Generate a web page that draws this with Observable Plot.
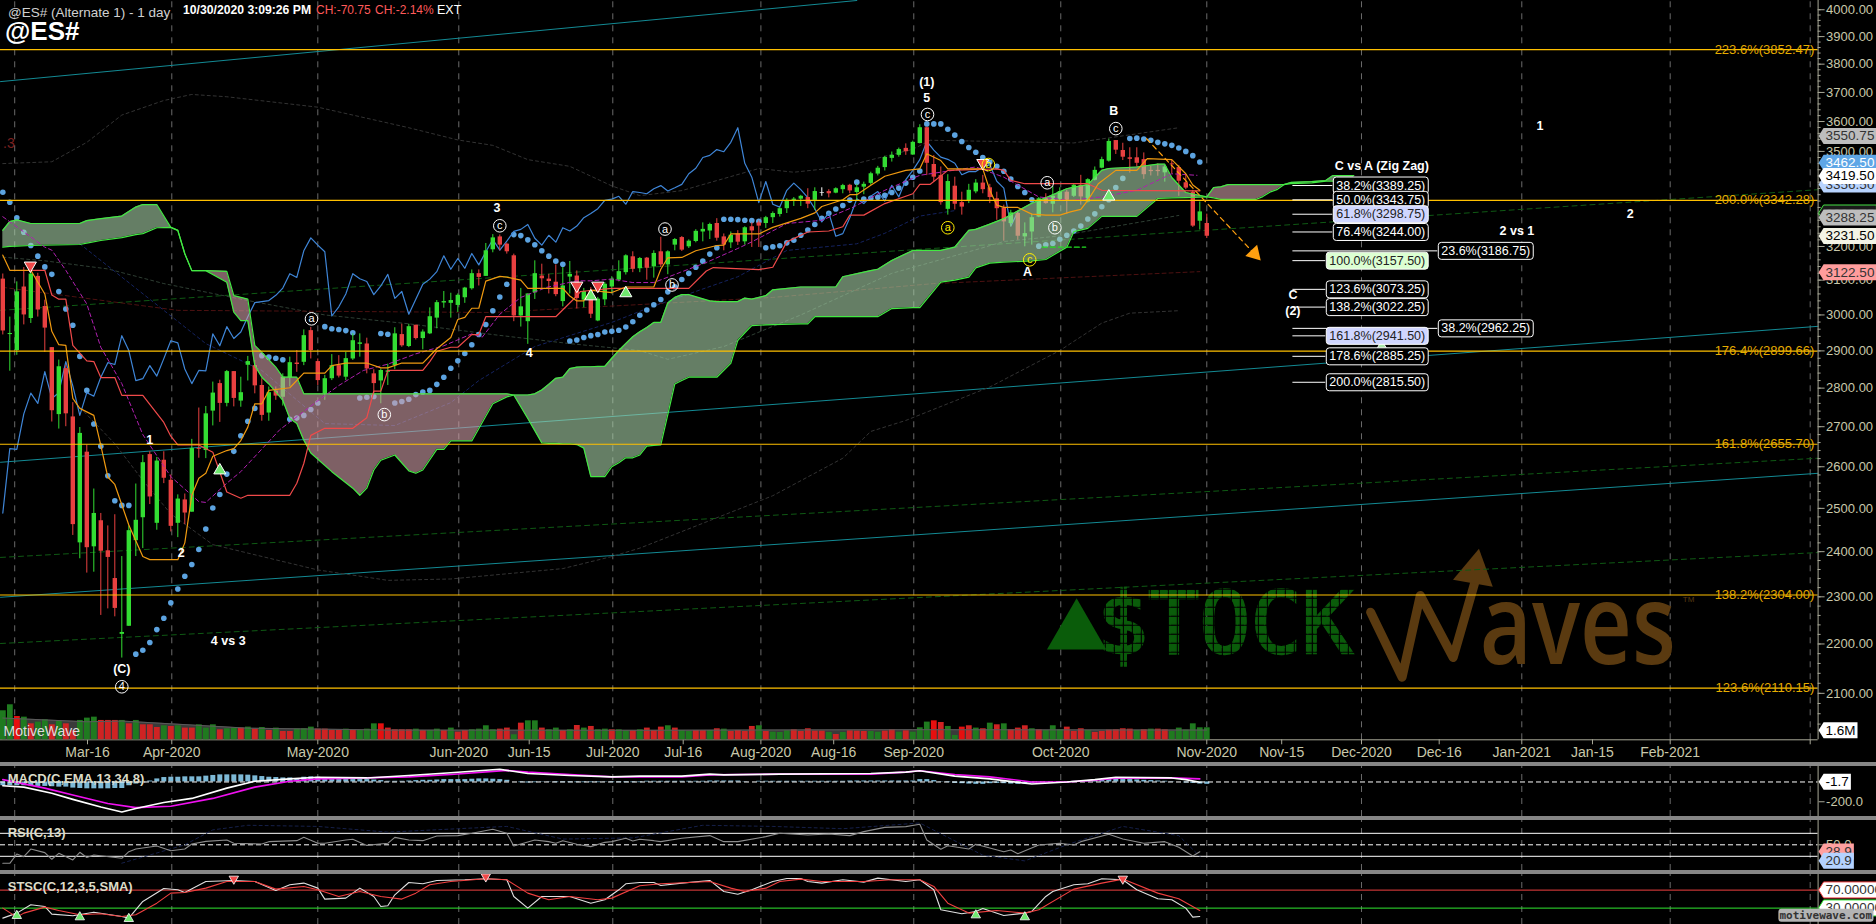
<!DOCTYPE html>
<html><head><meta charset="utf-8">
<script src="https://cdn.jsdelivr.net/npm/d3@7"></script>
<script src="https://cdn.jsdelivr.net/npm/@observablehq/plot@0.6"></script>
<style>
html,body{margin:0;padding:0;background:#000;width:1876px;height:924px;overflow:hidden}
#wrap{position:relative;width:1876px;height:924px;font-family:"Liberation Sans",Arial,sans-serif}
#wrap svg{display:block;position:absolute;left:0;overflow:visible}
.sep{position:absolute;left:0;width:1876px;height:4px;background:#868686}
.hd{position:absolute;white-space:nowrap;font-size:13.5px;line-height:16px}
</style></head><body><div id="wrap"></div>
<script>
// ---------- candles (bar index 0 .. 172) ----------
const open=[3103,2945,2901,3080,2990,3111,3024,2909,2731,2852,2725,2420,2636,2411,2471,2402,2340,2220,2237,2425,2478,2630,2465,2616,2567,2465,2520,2491,2645,2640,2740,2812,2760,2844,2766,
2861,2860,2807,2735,2792,2776,2827,2867,2869,2956,2871,2785,2825,2860,2829,2878,2918,2919,2838,2819,2842,2860,2945,2912,2971,2934,2947,2991,3034,3033,3027,3049,3075,3119,3111,
3190,3229,3207,3172,2997,2981,3063,3112,3103,3094,3038,3109,3112,3042,3069,2983,3043,3080,3100,3122,3169,3134,3165,3139,3184,3145,3204,3227,3199,3215,3244,3247,3270,3229,3211,3238,
3214,3260,3272,3270,3288,3298,3316,3342,3346,3351,3342,3365,3370,3365,3376,3390,3367,3384,3396,3426,3447,3477,3487,3510,3488,3526,3579,3457,3421,3314,3387,3335,3340,3369,
3397,3382,3347,3318,3270,3301,3229,3244,3290,3351,3330,3344,3368,3355,3390,3337,3406,3445,3468,3536,3503,3479,3479,3473,3438,3438,3430,3459,3447,3398,3368,3277,3270];
const high=[3118,2994,3095,3137,3130,3120,3042,2909,2875,2861,2762,2698,2654,2546,2488,2459,2485,2389,2459,2558,2628,2637,2623,2637,2580,2532,2534,2668,2748,2752,2816,2821,2847,2844,2829,
2885,2874,2825,2803,2803,2838,2883,2901,2958,2965,2878,2834,2890,2887,2896,2947,2947,2935,2849,2851,2864,2964,2974,2974,2971,2958,3020,3041,3067,3062,3060,3079,3130,3130,3209,
3236,3235,3210,3177,3076,3060,3157,3147,3117,3145,3137,3155,3127,3076,3078,3050,3093,3110,3157,3175,3184,3167,3167,3187,3228,3187,3224,3230,3220,3251,3272,3271,3285,3238,3244,3248,
3260,3272,3278,3292,3306,3319,3347,3351,3358,3379,3382,3382,3376,3382,3393,3393,3393,3400,3432,3451,3484,3498,3511,3525,3534,3589,3581,3486,3449,3424,3416,3368,3393,3408,
3422,3393,3368,3327,3311,3306,3272,3299,3351,3363,3386,3382,3374,3395,3422,3411,3449,3481,3541,3536,3527,3512,3512,3495,3451,3459,3454,3470,3454,3422,3374,3337,3299];
const low=[2944,2845,2888,2972,2976,2994,2896,2712,2694,2700,2437,2384,2352,2354,2260,2274,2257,2171,2237,2389,2407,2509,2449,2559,2445,2432,2462,2491,2621,2620,2702,2711,2751,2751,2750,
2819,2785,2714,2714,2768,2753,2803,2842,2860,2878,2807,2768,2820,2827,2820,2874,2883,2838,2785,2759,2807,2849,2910,2909,2930,2903,2945,2961,3019,2991,3007,3033,3071,3083,3111,
3181,3187,3177,2981,2966,2918,3044,3076,3060,3052,3023,3060,3017,3020,2990,2981,3026,3060,3095,3115,3122,3122,3100,3106,3137,3116,3187,3185,3194,3211,3214,3221,3216,3187,3194,3203,
3204,3197,3197,3255,3270,3290,3301,3323,3323,3316,3311,3355,3350,3363,3363,3363,3342,3360,3390,3420,3436,3465,3481,3487,3487,3525,3421,3400,3327,3296,3312,3296,3332,3363,
3363,3332,3280,3216,3260,3219,3199,3204,3288,3330,3303,3342,3299,3351,3327,3334,3404,3443,3465,3490,3470,3429,3449,3409,3420,3419,3400,3427,3355,3376,3258,3250,3224];
const close=[2955,2948,3066,3000,3118,3014,2963,2741,2857,2733,2462,2683,2409,2488,2401,2387,2275,2224,2448,2472,2610,2527,2614,2572,2458,2522,2489,2645,2643,2733,2787,2760,2844,2773,2788,
2871,2806,2729,2788,2779,2829,2868,2863,2942,2901,2820,2825,2860,2832,2879,2928,2922,2851,2812,2847,2846,2947,2914,2967,2934,2952,2995,3035,3038,3041,3056,3077,3119,3108,3187,
3226,3204,3184,2997,3023,3060,3119,3104,3096,3058,3083,3117,3047,3067,3002,3045,3088,3103,3125,3172,3132,3164,3135,3179,3145,3184,3221,3189,3216,3246,3252,3267,3225,3204,3234,3213,
3257,3247,3262,3288,3301,3316,3342,3346,3355,3330,3370,3367,3363,3379,3389,3372,3382,3393,3427,3445,3480,3487,3506,3499,3530,3579,3461,3416,3335,3402,3330,3321,3374,3397,
3376,3351,3316,3275,3303,3231,3239,3288,3347,3332,3355,3370,3340,3390,3353,3408,3438,3473,3533,3504,3481,3474,3461,3424,3434,3434,3449,3456,3403,3381,3262,3306,3231];
// ---------- parabolic SAR dots (bar 0 .. 171) ----------
const psar=[3368,3336,3288,3243,3203,3171,3139,3117,3067,3017,2971,2885,2794,2707,2651,2578,2518,2507,2507,2179,2187,2203,2230,2254,2287,2317,2345,2371,2405,2452,2501,2533,2582,2638,2677,
2714,2747,2887,2883,2880,2876,2719,2722,2729,2744,2761,2967,2961,2959,2956,2950,2774,2776,2778,2948,2946,2761,2765,2771,2783,2790,2794,2810,2829,2853,2873,2893,2917,2945,2973,
3012,3051,3088,3236,3233,3220,3205,3187,3171,3156,3147,2927,2930,2937,2942,2945,2952,2954,2957,2966,2981,2999,3014,3029,3044,3066,3081,3102,3120,3138,3156,3177,3196,
3283,3283,3282,3280,3279,3277,3196,3199,3202,3211,3219,3234,3250,3267,3286,3302,3315,3326,3343,3400,3346,3349,3352,3358,3367,3381,3397,3416,3436,3592,3592,3592,3574,3554,3533,3513,3497,
3480,3465,3451,3435,3410,3386,3367,3344,3201,3205,3209,3222,3234,3247,3262,3284,3300,3322,3344,3383,3412,3543,3544,3541,3537,3530,3525,3520,3511,3500,3486,3465];
// ---------- volume (millions) and colour code ----------
const volume=[3.87,4.67,3.11,3.02,2.13,2.36,2.67,2.0,2.44,2.13,1.2,2.58,2.89,3.02,2.58,2.58,2.58,2.58,2.13,2.58,2.0,2.0,1.64,1.87,1.78,1.87,1.56,1.56,2.0,1.56,2.0,1.33,1.47,1.56,1.56,1.69,1.42,1.64,1.24,1.56,1.11,1.11,1.42,1.47,1.69,1.42,1.42,1.24,1.24,1.42,1.24,1.24,1.42,2.13,2.13,1.56,1.33,1.33,1.33,1.42,1.24,1.24,1.42,1.24,1.56,1.02,1.24,1.33,1.42,1.87,1.33,1.42,1.56,.67,2.22,2.53,2.53,1.56,1.33,1.56,1.24,1.33,1.91,1.56,1.78,1.33,1.42,1.33,1.33,1.2,1.24,1.33,1.56,1.24,1.69,1.87,1.56,1.24,1.11,1.24,1.24,1.24,1.47,1.42,1.11,1.24,1.11,1.78,1.87,1.11,1.02,.98,1.2,1.33,1.11,1.47,1.16,1.16,.98,.71,.98,1.2,1.16,1.11,1.11,1.02,1.16,1.33,1.02,1.2,1.02,1.6,2.36,2.53,2.31,1.78,.58,1.69,1.87,1.56,1.47,2.22,2.0,2.13,1.33,1.56,1.87,1.47,1.33,1.24,1.87,1.33,1.69,1.11,1.47,1.24,.98,1.11,1.29,1.33,1.47,1.42,1.24,1.33,1.42,1.42,1.33,1.11,1.56,1.29,2.13,1.6,1.6];
const volColor="ggBgrggrgrrgggrrrgrgrrrgrgrrgggrggrgrgrgrrgggrrrrgrggbRrrrrgrggrgrrggggrrgrggrggrgrgrggrggrgrrrgrggrrgrgrrrrgrgggrrrrrgrgrrrggrrgrgggRrgbRrgrgrgrrrgrgggrrrgrrrrrrgrgrr".split("");
const volMAk=[0,12,17,35,55,91,130,172], volMA=[2.9,2.4,2.5,1.55,1.3,1.27,1.35,1.3];
// ---------- Ichimoku cloud ----------
const cloudK=[0,1,2,4,11,12,14,17,19,20,22,24,25,26,27,29,32,33,34,35,36,37,38,39,40,41,42,43,44,47,50,51,52,53,54,56,58,59,60,62,63,64,67,70,72,73,75,76,77,78,79,80,81,82,83,84,85,86,87,88,89,90,91,92,93,94,95,96,97,98,101,102,104,105,106,107,109,110,114,115,116,119,120,124,125,127,130,131,134,136,138,139,141,143,147,149,152,153,155,157,158,162,165,166,167,169,172,173,174,175,179,180,181,182,183,184,187,189,190,193];
const spanA=[3249,3276,3281,3270,3270,3279,3285,3293,3321,3329,3329,3258,3249,3178,3128,3128,3094,3008,2984,2984,2860,2829,2811,2790,2768,2721,2708,2666,2634,2588,2548,2531,2548,2592,2616,2629,2590,2584,2592,2643,2643,2664,2664,2759,2777,2782,2782,2785,2795,2810,2826,2829,2852,2856,2857,2857,2858,2858,2880,2901,2920,2939,2953,2965,2979,2979,3034,3050,3058,3058,3040,3038,3038,3038,3048,3045,3055,3072,3080,3080,3080,3080,3110,3128,3132,3158,3188,3188,3188,3198,3249,3252,3268,3285,3333,3350,3379,3384,3392,3438,3444,3449,3458,3458,3415,3367,3353,3350,3345,3345,3345,3354,3368,3376,3392,3399,3402,3405,3421,3421];
const spanB=[3198,3200,3201,3203,3206,3210,3218,3227,3236,3239,3257,3258,3249,3178,3128,3128,3126,3055,3050,3045,2915,2896,2876,2856,2829,2829,2829,2785,2785,2785,2785,2785,2785,2785,2785,2785,2785,2785,2785,2785,2785,2785,2785,2785,2785,2782,2721,2690,2659,2658,2658,2657,2657,2655,2646,2576,2576,2576,2600,2610,2622,2622,2629,2651,2653,2654,2731,2811,2820,2829,2829,2829,2866,2929,2950,2970,2972,2973,2975,2975,2995,2995,2995,2995,2995,3018,3021,3021,3094,3100,3109,3136,3150,3153,3157,3161,3198,3245,3255,3292,3292,3292,3348,3349,3350,3351,3353,3383,3385,3392,3392,3392,3392,3392,3392,3395,3398,3403,3403,3403];
// ---------- indicator lines on price ----------
const tenkanK=[0,1,4,6,7,8,9,10,11,13,14,15,16,18,20,21,25,26,27,28,29,30,32,33,34,35,36,37,38,41,43,46,47,49,52,54,55,57,60,62,64,65,66,67,68,69,71,72,74,75,80,81,82,83,84,85,87,89,93,94,95,97,99,102,103,104,108,110,112,114,116,117,120,121,122,124,126,129,131,132,134,135,140,141,142,143,145,147,149,151,152.5,154,155,156.5,159,162,163.5,167,169,170,171];
const tenkan=[3174,3129,3129,3060,2954,2917,2915,2773,2747,2729,2653,2575,2557,2461,2389,2382,2382,2420,2531,2572,2584,2626,2640,2645,2665,2699,2759,2759,2794,2801,2840,2840,2860,2867,2867,2854,2854,2867,2867,2906,2937,2987,2993,3019,3019,3097,3111,3109,3100,3076,3076,3054,3040,3040,3071,3068,3064,3080,3080,3132,3166,3167,3187,3203,3204,3238,3238,3258,3272,3286,3303,3323,3344,3360,3360,3390,3419,3438,3443,3492,3470,3443,3443,3374,3327,3320,3320,3299,3296,3296,3306,3314,3342,3395,3438,3438,3476,3473,3427,3391,3374];
const kijunK=[4,6,7,8,9,10,12,13,14,16,17,20,23,24,25,28,30,32,34,35,41,42,43,44,46,50,52,53,54,55,60,61,62,64,65,67,68,69,79,82,82.5,87,98,100.5,101.5,108,110,112,115,118,120,121,123,126,130,131,132.5,135,142,143,144,146,155,157,171];
const kijun=[3129,3129,3057,3045,3045,2915,2873,2871,2828,2828,2781,2781,2711,2676,2654,2654,2636,2539,2524,2531,2531,2560,2608,2678,2696,2696,2723,2792,2792,2847,2847,2871,2899,2910,2910,2945,2945,2995,2995,3054,3067,3076,3076,3127,3137,3131,3138,3214,3244,3247,3260,3296,3296,3332,3363,3393,3393,3438,3443,3438,3406,3395,3395,3374,3372];
const maK=[0,6,7,9,12,14,17,20,24,28,29,32,34,39.6,42.5,45,48,51.5,55,59,63,67,68.5,71,74,77.7,82,84,87,90,93,96.8,100.6,105,107,112,117,121.5,126,131,139,143,148,152.5,157,162,167,170.6];
const maLine=[3291,3198,3189,3129,3031,2910,2812,2680,2576,2516,2514,2560,2588,2693,2732,2767,2807,2847,2864,2892,2914,2947,2938,3002,3050,3079,3098,3098,3103,3093,3093,3123,3153,3194,3214,3270,3280,3321,3374,3422,3449,3416,3353,3342,3353,3374,3427,3422];
const bbUpperK=[0,7,12,17,23,27,32,45,58,65,70,75,81,87,91,97,108,113,120,130,132.5,153,168];
const bbUpper=[3460,3466,3530,3622,3672,3693,3685,3649,3579,3538,3520,3473,3451,3388,3357,3373,3444,3432,3449,3507,3537,3528,3579];
const bbLowerK=[11,16,20,24,30,45,55,64,80,87,91,110,120,124,129,141,151,157,161,168];
const bbLower=[2750,2657,2567,2487,2416,2359,2336,2339,2362,2389,2408,2530,2621,2688,2716,2803,2901,2977,3005,3012];
const bbMidK=[0,6,15,23,35,46,58,70,81,91,95,103,114,127,139,143,151,168];
const bbMid=[3168,3157,3133,3090,3041,3000,2975,2945,2920,2901,2877,2912,3000,3120,3190,3215,3232,3295];
const darkRedK=[0,25,70,110,133,171], darkRed=[3079,3013,3007,3050,3090,3125];
const darkBlueK=[11,17,29,37,46,56,64,68,76,87,92,105,112,122,126,131,136];
const darkBlue=[3208,3109,2920,2847,2708,2703,2762,2820,2912,2979,3018,3110,3188,3208,3240,3293,3310];
// ---------- straight channels ----------
const tealLines=[[-0.33,3738,122,4035],[-0.33,2611,259.33,2968],[-0.33,2299,259.33,2584]];
const greenLines=[[-0.33,3013,259.33,3376],[-0.33,2387,259.33,2621],[-0.33,2201,259.33,2398]];
// ---------- Fibonacci ----------
const fibLevels=[3852.47,3342.28,2899.66,2655.70,2304.00,2110.15];
const fibNames=["223.6%(3852.47)","200.0%(3342.28)","176.4%(2899.66)","161.8%(2655.70)","138.2%(2304.00)","123.6%(2110.15)"];
const boxPrices=[3389.25,3343.75,3298.75,3244.00,3157.50,3073.25,3022.25,2941.50,2885.25,2815.50,3186.75,2962.25];
const boxTexts=["38.2%(3389.25)","50.0%(3343.75)","61.8%(3298.75)","76.4%(3244.00)","100.0%(3157.50)","123.6%(3073.25)","138.2%(3022.25)","161.8%(2941.50)","178.6%(2885.25)","200.0%(2815.50)","23.6%(3186.75)","38.2%(2962.25)"];
const boxK=[190.5,190.5,190.5,190.5,189.5,189.5,189.5,189.5,189.5,189.5,205.5,205.5];
const boxFill=["#000","#000","#d0d6ff","#000","#dcffd2","#000","#000","#d0d6ff","#000","#000","#000","#000"];
const boxInk=["#fff","#fff","#222","#fff","#222","#fff","#fff","#222","#fff","#fff","#fff","#fff"];
const leaderEnd=[190,190,190,190,189,189,189,189,189,189,205,205];
// ---------- wave labels ----------
const waveText=["1","2","(C)","4 vs 3","3","4","(1)","5","A","B","1","2","C","(2)","C vs A (Zig Zag)","2 vs 1"];
const waveK=[21,25.5,17,32.2,70.6,75.2,132,132,146.4,158.7,219.6,232.5,184.3,184.3,197,216.3];
const waveP=[2667,2398,2148,2206,3319,2893,3735,3680,3123,3635,3584,3300,3058,3012,3451,3246];
const circText=["4","c","a","b","c","a","b","a","b","c","a","b","c"];
const circK=[17,71,44.1,54.5,132.1,94.6,95.6,135,140.8,146.7,149.2,150.3,159];
const circP=[2113,3263,2989,2731,3624,3253,3086,3257,3457,3160,3398,3257,3576];
const circColor=["#fff","#fff","#fff","#fff","#fff","#fff","#fff","#ffee00","#ffee00","#ffee00","#fff","#fff","#fff"];
// ---------- triangles ----------
const downK=[3.93,82,85,140], downP=[3143,3084,3084,3462];
const upK=[84,89,31,158,197], upP=[3053,3062,2591,3354,2910], upFill=["#6fe86f","#6fe86f","#6fe86f","#6fe86f","#a8e8a8"];
// ---------- axes ----------
const priceTicks=d3.range(2100,4001,100);
const priceMinor=d3.range(2040,4001,20);
const gridK=[1.7,24.14,45,65.14,87.14,108.3,130.14,151.14,172,194.1,217,238.2,258.2];
const dateK=[12.1,24.14,45,65.14,75.2,87.14,97.2,108.3,118.7,130.14,151.14,172,182.7,194.1,205.2,217,227.1,238.2,258.2];
const dateLabels=["Mar-16","Apr-2020","May-2020","Jun-2020","Jun-15","Jul-2020","Jul-16","Aug-2020","Aug-16","Sep-2020","Oct-2020","Nov-2020","Nov-15","Dec-2020","Dec-16","Jan-2021","Jan-15","Feb-2021",""];
const tagText=["3356.50","3302.75","3550.75","3462.50","3419.50","3288.25","3231.50","3122.50"];
const tagP=[3392,3302,3550.75,3462.5,3419.5,3288.25,3231.5,3122.5];
const tagFill=["#b9d4ff","#1a1a1a","#bdbdbd","#5ea6e6","#ffffff","#bdbdbd","#f4f4e6","#ff9c9c"];
const tagInk=["#333","#333","#333","#fff","#000","#333","#000","#333"];
const tagEdge=["none","#44e044","none","none","none","none","none","none"];
// ---------- lower panes ----------
const macdK=[0,3,7,10,14,17,19,23,27,32,36,41,45,52,58,64,71,75,81,87,91,97,101,103,111,124,129,131,136,141,147,152,156,159,167,169,171];
const macd=[-38,-52,-114,-176,-252,-304,-269,-207,-166,-62,7,31,48,41,66,93,128,86,66,52,59,59,79,72,79,86,100,114,59,31,-21,0,24,48,41,24,-3];
const signalK=[0,6,10,15,19,24,30,36,41,45,52,58,64,72,75,81,87,91,97,101,111,124,129,131,136,141,147,152,156,159,167,171];
const signal=[24,-62,-131,-217,-259,-245,-166,-52,7,31,41,52,76,117,100,76,52,52,52,72,79,79,100,114,76,52,0,0,17,38,41,31];
const hist=[-38,-38,-38,-38,-40,-45,-45,-48,-52,-52,-62,-66,-69,-69,-69,-69,-66,-66,-38,-21,-10,10,31,45,48,48,52,52,52,59,66,72,72,72,72,69,62,55,48,45,41,41,35,48,52,48,24,24,24,24,24,24,24,20,14,7,7,7,10,14,17,17,20,24,24,24,24,28,31,31,28,24,17,0,-7,-10,-7,-3,-3,-7,-7,-7,-7,-7,-7,-7,-3,-7,-7,-7,-7,-7,7,7,7,7,7,7,7,7,7,10,10,10,10,10,3,0,7,7,7,7,7,7,7,7,7,7,7,7,7,10,10,10,10,10,10,10,10,10,10,24,24,14,3,-7,-14,-17,-21,-24,-24,-17,-14,-17,-21,-24,-21,-17,-10,-3,0,3,3,7,10,14,17,21,24,28,24,24,21,17,14,10,7,3,0,-10,-14,-21,-24];
const rsiK=[0,1,2,3,4,6,7,8,10,11,12,13,17,18,19,22,24,26,27,29,32,33,37,38,42,43,45,46,49,50,52,55,56,58,60,62,65,67,70,72,73,76,78,79,80,82,84,86,87,89,90,91,93,94,97,101,103,105,109,111,115,118,121,123,126,129,131,132,134,135,138,139,143,144,145,148,151,153,154,158,160,163,166,168,170,171];
const rsi=[17.8,17.8,34,29.4,42.7,36.4,24.8,35.2,23.6,37,28,32.3,26.5,38,42.7,48,39.8,42.7,51.4,56,58.4,52.6,51.4,55.5,57.2,63,52.6,52.6,58.4,59.6,49,52.6,63,58.4,57.2,65.4,66,70,77,70,48,58.4,55.5,52.6,57.2,50.9,46.8,54.3,55.5,61.3,56.7,59.6,57.2,55.5,61.3,66,55.5,55.5,64.2,70,67,68.8,66,72.9,80.4,81.6,85.7,58.4,42.2,48.5,42.7,50.9,38,41,34.6,49.7,52.6,49.7,55.5,68.3,60,52.6,55.5,45.6,30.6,38];
const rsiBandK=[17,26,30,35,45,55,65,72,80,90,100,110,120,131,140,146,152,160,168,171];
const rsiBand=[18,50,76,84,82,72,78,82,60,62,84,82,78,88,32,22,50,82,66,30];
const stK=[0,2,4,6,7,10,13,17,18,20,23,25,26,29,33,36,39,41,43,45,46,49,51,53,54,55,56,58,60,62,66,69,72,73,75,77,79,81,84,86,88,89,91,93,94,97,101,103,105,107,110,112,114,115,117,120,123,125,129,131,133,134,137,139,140,143,146,147,149,150,153,155,157,160,162,165,167,169,170,171];
const st=[7.8,18.9,37.4,33.7,16.6,13,21,11.5,7.8,44.8,73.7,70.7,64.8,89.3,91.5,89.3,69.3,81.9,85.6,74.4,50,52.2,74.4,55.9,33.7,35.2,59.6,87,84,91.5,93,95.2,93,55.9,30,55.9,55.9,55.9,41,48.5,70.7,84,87,87,80.4,85.6,91.5,67,61,70.7,89.3,95.9,95.9,89.3,85.6,93,87.8,96.7,89.3,93,70.7,26.3,17.4,22.6,29.2,13.7,18.9,22.6,55.9,67,81.9,84,95.2,93,70.7,50.7,48.5,30,10,11.5];
const stSigK=[0,2,3,6,8,11,14,17,19,22,24,26,29,32,36,39,43,45,48,51,54,57,59,61,64,69,72,75,78,81,85,87,91,94,98,101,104,106,109,111,114,117,123,127,131,133,135,138,142,146,148,153,157,160,165,168,171];
const stSig=[30,10,18.9,32.2,24.8,15.2,17.4,11.5,15.2,41,63.3,64.8,74.4,89.3,89.3,72.2,78.2,70.7,55.9,67,55.9,50,63.3,81.9,89.3,95.2,93,63.3,48.5,55.9,48.5,52.2,79.6,84,87,89.3,74.4,67,74.4,89.3,94.5,89.3,89.3,93,93,78.2,41,18.9,24.8,18.9,26.3,72.2,85.6,94.5,63.3,50.7,24.8];
const stUpK=[2,11,18,139,146], stUpV=[13,10,6.3,14.4,10];
const stDownK=[33,69,160], stDownV=[95,100,95];
const headTexts=[["@ES# (Alternate 1) - 1 day",8,5,"#d0d0d0","normal","13.5px"],["10/30/2020 3:09:26 PM",183,3,"#fff","bold","12.2px"],["CH:-70.75",316,3,"#ff5a5a","normal","12px"],["CH:-2.14%",375,3,"#ff5a5a","normal","12px"],["EXT",437,3,"#fff","normal","12.5px"],["@ES#",5,17,"#fff","bold","26px"],[".3",3,135,"#7a2020","normal","14px"]];

// ---------- helpers ----------
const wrap=document.getElementById("wrap");
const xScale={type:"linear",domain:[-0.33,259.33]};
const xHidden={...xScale,axis:null};
const FONT='"Liberation Sans",Arial,sans-serif';
const AXC="#c8c8aa", AXL="#a8a898", GRID="#6a6a6a";
const rows=(ks,vs,f="v")=>ks.map((k,i)=>({k,[f]:vs[i]}));
const frame={width:1876,marginLeft:0,marginRight:58.4,marginTop:0,marginBottom:0,x:xHidden,style:{background:"transparent",fontFamily:FONT,overflow:"visible"}};
function mount(p,top){p.style.top=top+"px";wrap.appendChild(p);return p;}
const NS="http://www.w3.org/2000/svg";
function decorate(svg,cls,fill,edge,pad,mode){
  svg.querySelectorAll("."+cls+" text").forEach((t,i)=>{
    const b=t.getBBox(),s=document.createElementNS(NS,"path");
    const top=b.y-pad[1],bot=b.y+b.height+pad[1],l=b.x-pad[0],r=b.x+b.width+pad[0];
    if(mode==="tag"){s.setAttribute("d",`M${l-5},${(top+bot)/2}L${l},${top}H${r}V${bot}H${l}Z`);}
    else{s.setAttribute("d",`M${l+3},${top}H${r-3}Q${r},${top} ${r},${top+3}V${bot-3}Q${r},${bot} ${r-3},${bot}H${l+3}Q${l},${bot} ${l},${bot-3}V${top+3}Q${l},${top} ${l+3},${top}Z`);}
    s.setAttribute("fill",fill[i]);s.setAttribute("stroke",edge[i]);s.setAttribute("stroke-width",1);
    if(t.getAttribute("transform"))s.setAttribute("transform",t.getAttribute("transform"));
    t.parentNode.insertBefore(s,t);
  });
}
// cloud sections split where the two spans meet
const cloudRows=[];let sec=0,last=0;
cloudK.forEach((k,i)=>{const s=Math.sign(spanA[i]-spanB[i]);
  if(s!==0&&last!==0&&s!==last)sec++;
  if(s===0){cloudRows.push({k,a:spanA[i],b:spanB[i],sec,col:last>0?"g":"r"});sec++;last=0;cloudRows.push({k,a:spanA[i],b:spanB[i],sec,col:(Math.sign(spanA[i+1]-spanB[i+1])||1)>0?"g":"r"});return;}
  last=s;cloudRows.push({k,a:spanA[i],b:spanB[i],sec,col:s>0?"g":"r"});});
const candles=open.map((o,k)=>({k,o,h:high[k],l:low[k],c:close[k],col:k===117?"#ffffff":(close[k]>=o?"#33dd33":"#e84040")}));
const chikou=close.slice(26,172).map((c,k)=>({k,c}));
const seg=a=>a.flatMap((s,i)=>[{k:s[0],p:s[1],id:i},{k:s[2],p:s[3],id:i}]);

// ---------- main pane ----------
const main=Plot.plot({...frame,x:xScale,height:762,marginBottom:22.7,y:{type:"log",domain:[2010,4035]},marks:[
  Plot.ruleX(gridK,{stroke:GRID,strokeDasharray:"6,6",y1:2010,y2:4035,strokeWidth:1}),
  // watermark
  Plot.dot([{k:153.4,p:2224}],{x:"k",y:"p",symbol:"triangle",r:22,fill:"#0a5c0a"}),
  Plot.text(["$TOCK"],{x:()=>156.3,y:()=>2238,text:d=>d,textAnchor:"start",fontSize:85,fontFamily:"DejaVu Sans Mono",fill:"#0a5c0a",className:"wmk"}),
  Plot.line([[195.4,2267],[199.9,2132],[202.5,2303],[207.2,2172],[210.5,2343]],{x:d=>d[0],y:d=>d[1],stroke:"#5a3a10",strokeWidth:9,strokeLinecap:"round",strokeLinejoin:"round"}),
  Plot.dot([{k:210.3,p:2355}],{x:"k",y:"p",symbol:"triangle",r:15,fill:"#5a3a10",rotate:10}),
  Plot.text(["aves"],{x:()=>211,y:()=>2234,text:d=>d,textAnchor:"start",fontSize:112,fontWeight:600,fontFamily:"Open Sans",fill:"#5a3a10",className:"wmk2"}),
  Plot.text(["TM"],{x:()=>240,y:()=>2295,text:d=>d,textAnchor:"start",fontSize:8,fill:"#5a3a10"}),
  // channels
  Plot.line(seg(tealLines),{x:"k",y:"p",z:"id",stroke:"#138a94",strokeWidth:1}),
  Plot.line(seg(greenLines),{x:"k",y:"p",z:"id",stroke:"#0f5a14",strokeWidth:1,strokeDasharray:"5,4"}),
  Plot.line(rows(bbUpperK,bbUpper),{x:"k",y:"v",stroke:"#333",strokeWidth:1,strokeDasharray:"3,3"}),
  Plot.line(rows(bbLowerK,bbLower),{x:"k",y:"v",stroke:"#333",strokeWidth:1,strokeDasharray:"3,3"}),
  Plot.line(rows(bbMidK,bbMid),{x:"k",y:"v",stroke:"#2e3e33",strokeWidth:1,strokeDasharray:"3,3"}),
  Plot.line(rows(darkRedK,darkRed),{x:"k",y:"v",stroke:"#4d1111",strokeWidth:1,strokeDasharray:"4,3"}),
  Plot.line(rows(darkBlueK,darkBlue),{x:"k",y:"v",stroke:"#14225e",strokeWidth:1,strokeDasharray:"3,3"}),
  // price
  Plot.dot(psar.map((p,k)=>({k,p})),{x:"k",y:"p",r:2.8,fill:"#5ca3e0"}),
  Plot.line(chikou,{x:"k",y:"c",stroke:"#3f86d8",strokeWidth:1.2}),
  Plot.ruleX(candles,{x:"k",y1:"l",y2:"h",stroke:"col",strokeWidth:1}),
  Plot.ruleX(candles,{x:"k",y1:"o",y2:"c",stroke:"col",strokeWidth:4.4}),
  // cloud
  Plot.areaY(cloudRows.filter(d=>d.col==="g"),{x:"k",y1:"a",y2:"b",z:"sec",fill:"#a8d2a8",fillOpacity:.6}),
  Plot.areaY(cloudRows.filter(d=>d.col==="r"),{x:"k",y1:"a",y2:"b",z:"sec",fill:"#d2a0a8",fillOpacity:.6}),
  Plot.line(rows(cloudK,spanA),{x:"k",y:"v",stroke:"#43e843",strokeWidth:1.2}),
  Plot.line(rows(cloudK,spanB),{x:"k",y:"v",stroke:"#43e843",strokeWidth:1.2}),
  // overlays
  Plot.line(rows(maK,maLine),{x:"k",y:"v",stroke:"#b020b0",strokeWidth:1,strokeDasharray:"4,3"}),
  Plot.line(rows(kijunK,kijun),{x:"k",y:"v",stroke:"#f04a4a",strokeWidth:1.2}),
  Plot.line(rows(tenkanK,tenkan),{x:"k",y:"v",stroke:"#f09a10",strokeWidth:1.2}),
  Plot.ruleY(fibLevels,{x1:-0.33,x2:259.33,stroke:"#ffc000",strokeWidth:1.2}),
  Plot.text(fibNames,{x:()=>258.8,y:(d,i)=>fibLevels[i],text:d=>d,textAnchor:"end",fontSize:13,fill:"#e6ac00"}),
  // fast-move annotations
  Plot.line([[148.5,3198],[154.7,3198]],{x:d=>d[0],y:d=>d[1],stroke:"#22e022",strokeWidth:1.2,strokeDasharray:"5,3"}),
  Plot.line([[163.4,3542],[178.8,3178]],{x:d=>d[0],y:d=>d[1],stroke:"#ffa010",strokeWidth:1.2,strokeDasharray:"5,4"}),
  Plot.dot([{k:178.8,p:3178}],{x:"k",y:"p",symbol:"triangle",r:6,fill:"#ffa010",rotate:137}),
  Plot.dot(downK.map((k,i)=>({k,p:downP[i]})),{x:"k",y:"p",symbol:"triangle",r:4.5,rotate:180,fill:"#f04848",stroke:"#fff",strokeWidth:1}),
  Plot.dot(upK.map((k,i)=>({k,p:upP[i],f:upFill[i]})),{x:"k",y:"p",symbol:"triangle",r:4.5,fill:d=>d.f,stroke:"#fff",strokeWidth:1}),
  // labels
  Plot.dot(circK.map((k,i)=>({k,p:circP[i],c:circColor[i]})),{x:"k",y:"p",r:6.3,stroke:d=>d.c,strokeWidth:1,fill:"none"}),
  Plot.text(circText,{x:(d,i)=>circK[i],y:(d,i)=>circP[i],text:d=>d,fill:(d,i)=>circColor[i],fontSize:11}),
  Plot.text(waveText,{x:(d,i)=>waveK[i],y:(d,i)=>waveP[i],text:d=>d,fill:"#fff",fontSize:12.5,fontWeight:"bold"}),
  // fib boxes
  Plot.ruleY(boxPrices,{x1:()=>184.3,x2:(d,i)=>leaderEnd[i],stroke:"#fff",strokeWidth:1}),
  Plot.text(boxTexts,{x:(d,i)=>boxK[i],y:(d,i)=>boxPrices[i],text:d=>d,textAnchor:"start",fontSize:12.5,fill:(d,i)=>boxInk[i],className:"fibbox"}),
  // axes
  Plot.ruleX([259.33],{stroke:AXL,strokeWidth:1}),
  Plot.ruleY([2010],{x1:-0.33,x2:259.33,stroke:AXL,strokeWidth:1}),
  Plot.ruleY(priceMinor,{x1:()=>259.33,x2:()=>259.76,stroke:AXL,strokeWidth:1}),
  Plot.axisY(priceTicks,{anchor:"right",tickSize:6,tickPadding:2,tickFormat:d=>d.toFixed(2),label:null,fontSize:13,fill:AXC,stroke:AXL}),
  Plot.axisX(dateK,{anchor:"bottom",tickSize:5,tickPadding:2,label:null,tickFormat:d=>dateLabels[dateK.indexOf(d)],fontSize:14,fill:AXC,stroke:AXL}),
  Plot.text(tagText,{x:()=>260.4,y:(d,i)=>tagP[i],text:d=>d,textAnchor:"start",fontSize:13.5,fill:(d,i)=>tagInk[i],className:"pricetag"})
]});
mount(main,0);
decorate(main,"fibbox",boxFill,boxFill.map(()=>"#fff"),[3,1.5],"box");
decorate(main,"pricetag",tagFill,tagEdge,[2,0.5],"tag");
{ // pixel-grid fill of the logo lettering
  const defs=document.createElementNS(NS,"defs");
  defs.innerHTML='<pattern id="pix" width="9" height="9" patternUnits="userSpaceOnUse"><rect width="7.8" height="7.8" fill="#0a5c0a"/></pattern>';
  main.insertBefore(defs,main.firstChild);
  main.querySelectorAll(".wmk text").forEach(t=>{t.style.fill="url(#pix)";t.style.stroke="url(#pix)";t.style.strokeWidth="2.5px";});
  main.querySelectorAll(".wmk2 text").forEach(t=>{t.setAttribute("textLength",196);t.setAttribute("lengthAdjust","spacingAndGlyphs");});
}

// ---------- volume overlay ----------
const volH=49.3;
const volData=volume.map((v,k)=>({k,v,col:{g:"#1f7a1f",r:"#cf2323",R:"#e60f0f",B:"#e60f0f",b:"#1f7a1f"}[volColor[k]]||"#1f7a1f"}));
const volP=Plot.plot({...frame,height:volH,y:{domain:[0,volH/7.5],axis:null},marks:[
  Plot.areaY(rows(volMAk,volMA),{x:"k",y:"v",fill:"#3a3a3a"}),
  Plot.ruleX(volData,{x:"k",y1:0,y2:"v",stroke:"col",strokeWidth:5.8}),
  Plot.line(rows(volMAk,volMA),{x:"k",y:"v",stroke:"#5a5a5a",strokeWidth:1}),
  Plot.text(["MotiveWave"],{x:()=>0.1,y:()=>1.15,text:d=>d,textAnchor:"start",fontSize:14,fill:"#dcdcdc"}),
  Plot.text(["1.6M"],{x:()=>260.4,y:()=>1.25,text:d=>d,textAnchor:"start",fontSize:13.5,fill:"#000",className:"vt"})
]});
mount(volP,690);decorate(volP,"vt",["#fff"],["none"],[2,0.5],"tag");

// ---------- MACD ----------
const macdP=Plot.plot({...frame,height:50,y:{domain:[-349,156.5],axis:null},marks:[
  Plot.ruleX(gridK,{stroke:GRID,strokeDasharray:"6,6",y1:-349,y2:156.5,strokeWidth:1}),
  Plot.ruleX(hist.map((v,k)=>({k,v})),{x:"k",y1:0,y2:"v",stroke:"#7db9d6",strokeWidth:5}),
  Plot.ruleY([0],{x1:-0.33,x2:259.33,stroke:"#fff",strokeDasharray:"5,3",strokeWidth:1}),
  Plot.line(rows(signalK,signal),{x:"k",y:"v",stroke:"#f010f0",strokeWidth:1.6}),
  Plot.line(rows(macdK,macd),{x:"k",y:"v",stroke:"#fff",strokeWidth:1.6}),
  Plot.text(["MACD(C,EMA,13,34,8)"],{x:()=>0.7,y:()=>35,text:d=>d,textAnchor:"start",fontSize:13,fontWeight:"bold",fill:"#dcdcc8"}),
  Plot.ruleX([259.33],{stroke:AXL,strokeWidth:1}),
  Plot.axisY([-200],{anchor:"right",tickSize:6,tickPadding:2,tickFormat:d=>d.toFixed(1),label:null,fontSize:13,fill:AXC,stroke:AXL}),
  Plot.text(["-1.7"],{x:()=>260.4,y:()=>0,text:d=>d,textAnchor:"start",fontSize:13.5,fill:"#000",className:"vt"})
]});
mount(macdP,766);decorate(macdP,"vt",["#fff"],["none"],[2,0.5],"tag");

// ---------- RSI ----------
const rsiP=Plot.plot({...frame,height:50,y:{domain:[5.3,92.3],axis:null},marks:[
  Plot.ruleX(gridK,{stroke:GRID,strokeDasharray:"6,6",y1:5.3,y2:92.3,strokeWidth:1}),
  Plot.ruleY([70,30],{x1:-0.33,x2:259.33,stroke:"#fff",strokeWidth:1}),
  Plot.ruleY([50],{x1:-0.33,x2:259.33,stroke:"#fff",strokeDasharray:"5,3",strokeWidth:1}),
  Plot.line(rows(rsiBandK,rsiBand),{x:"k",y:"v",stroke:"#16204a",strokeWidth:1,strokeDasharray:"3,3"}),
  Plot.line(rows(rsiK,rsi),{x:"k",y:"v",stroke:"#8c8c8c",strokeWidth:1.1}),
  Plot.text(["RSI(C,13)"],{x:()=>0.7,y:()=>70,text:d=>d,textAnchor:"start",fontSize:13,fontWeight:"bold",fill:"#dcdcc8"}),
  Plot.ruleX([259.33],{stroke:AXL,strokeWidth:1}),
  Plot.axisY([50],{anchor:"right",tickSize:6,tickPadding:2,tickFormat:d=>d.toFixed(1),label:null,fontSize:13,fill:AXC,stroke:AXL}),
  Plot.text(["28.9","20.9"],{x:()=>260.4,y:(d,i)=>[38,22][i],text:d=>d,textAnchor:"start",fontSize:13.5,fill:"#333",className:"vt"})
]});
mount(rsiP,820);decorate(rsiP,"vt",["#ffa0a0","#b4d2ff"],["none","none"],[2,0.5],"tag");

// ---------- STSC ----------
const stP=Plot.plot({...frame,height:50,y:{domain:[-6.4,104.7],axis:null},marks:[
  Plot.ruleX(gridK,{stroke:GRID,strokeDasharray:"6,6",y1:-6.4,y2:104.7,strokeWidth:1}),
  Plot.ruleY([70],{x1:-0.33,x2:259.33,stroke:"#f04040",strokeWidth:1}),
  Plot.ruleY([30],{x1:-0.33,x2:259.33,stroke:"#30e830",strokeWidth:1}),
  Plot.line(rows(stK,st),{x:"k",y:"v",stroke:"#e0e0e0",strokeWidth:1.1}),
  Plot.line(rows(stSigK,stSig),{x:"k",y:"v",stroke:"#f04040",strokeWidth:1.1}),
  Plot.dot(stUpK.map((k,i)=>({k,v:stUpV[i]})),{x:"k",y:"v",symbol:"triangle",r:3.5,fill:"#6fe86f",stroke:"#fff",strokeWidth:.8}),
  Plot.dot(stDownK.map((k,i)=>({k,v:stDownV[i]})),{x:"k",y:"v",symbol:"triangle",rotate:180,r:3.5,fill:"#f04848",stroke:"#fff",strokeWidth:.8}),
  Plot.text(["STSC(C,12,3,5,SMA)"],{x:()=>0.7,y:()=>78,text:d=>d,textAnchor:"start",fontSize:13,fontWeight:"bold",fill:"#dcdcc8"}),
  Plot.ruleX([259.33],{stroke:AXL,strokeWidth:1}),
  Plot.text(["70.00000","30.00000"],{x:()=>260.4,y:(d,i)=>[70,30][i],text:d=>d,textAnchor:"start",fontSize:13.5,fill:"#333",className:"vt"}),
  Plot.text(["motivewave.com"],{x:()=>253.8,y:()=>14,text:d=>d,textAnchor:"start",fontSize:11,fontWeight:"bold",fontFamily:"DejaVu Sans Mono",fill:"#333",className:"mw"})
]});
mount(stP,874);decorate(stP,"vt",["#fff","#fff"],["#f04040","#30e830"],[2,0.5],"tag");
decorate(stP,"mw",["#b4b4b4"],["none"],[1,0],"box");

// ---------- separators and header ----------
[762,816,870].forEach(t=>{const d=document.createElement("div");d.className="sep";d.style.top=t+"px";wrap.appendChild(d);});
headTexts.forEach(([s,x,y,c,w,f])=>{const d=document.createElement("div");d.className="hd";d.textContent=s;d.style.cssText+=`left:${x}px;top:${y}px;color:${c};font-weight:${w};font-size:${f};line-height:${parseFloat(f)+3}px`;wrap.appendChild(d);});
</script></body></html>
